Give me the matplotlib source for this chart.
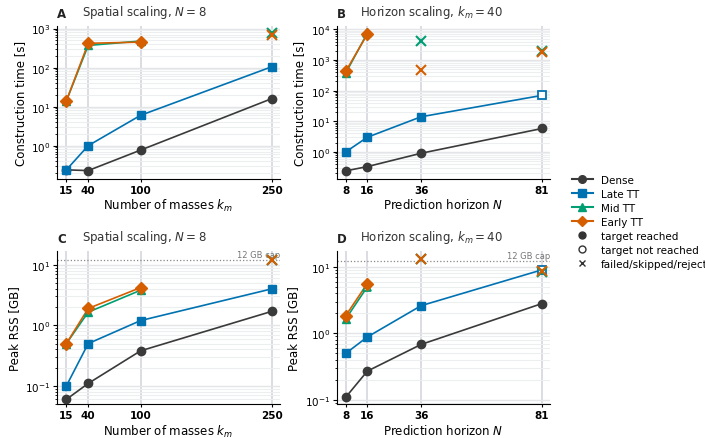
import matplotlib
matplotlib.use("Agg")
import matplotlib.pyplot as plt
from matplotlib.lines import Line2D
import numpy as np

# ---- data ----
km = [15, 40, 100, 250]
horizon = [8, 16, 36, 81]
methods = ["Dense", "Late TT", "Mid TT", "Early TT"]
colors = {"Dense": "#3a3a3a", "Late TT": "#0072B2", "Mid TT": "#009E73", "Early TT": "#D55E00"}
markers = {"Dense": "o", "Late TT": "s", "Mid TT": "^", "Early TT": "D"}
msizes = {"Dense": 6, "Late TT": 5.8, "Mid TT": 6.2, "Early TT": 5.8}

# status: 'r' reached, 'n' not reached, 'x' failed/skipped/rejected
time_spatial = {
    "Dense":    [0.24, 0.23, 0.77, 16],
    "Late TT":  [0.24, 1.0, 6.0, 105],
    "Mid TT":   [14, 370, 480, 750],
    "Early TT": [14, 420, 450, 700],
}
time_spatial_status = {
    "Dense":    ["r", "r", "r", "r"],
    "Late TT":  ["r", "r", "r", "r"],
    "Mid TT":   ["r", "r", "r", "x"],
    "Early TT": ["r", "r", "r", "x"],
}
time_horizon = {
    "Dense":    [0.24, 0.33, 0.9, 5.8],
    "Late TT":  [1.0, 3.0, 14, 70],
    "Mid TT":   [380, 7500, 4200, 1900],
    "Early TT": [430, 7000, 480, 1800],
}
time_horizon_status = {
    "Dense":    ["r", "r", "r", "r"],
    "Late TT":  ["r", "r", "r", "n"],
    "Mid TT":   ["r", "n", "x", "x"],
    "Early TT": ["r", "r", "x", "x"],
}
rss_spatial = {
    "Dense":    [0.06, 0.11, 0.38, 1.7],
    "Late TT":  [0.10, 0.50, 1.2, 4.0],
    "Mid TT":   [0.50, 1.65, 3.8, 12],
    "Early TT": [0.50, 1.9, 4.2, 12],
}
rss_spatial_status = time_spatial_status
rss_horizon = {
    "Dense":    [0.11, 0.27, 0.68, 2.8],
    "Late TT":  [0.50, 0.88, 2.6, 9.0],
    "Mid TT":   [1.65, 5.0, 13, 8.3],
    "Early TT": [1.85, 5.6, 13, 8.5],
}
rss_horizon_status = time_horizon_status
mem_cap = 12

plt.rcParams["font.family"] = "DejaVu Sans"
plt.rcParams["font.size"] = 8

fig = plt.figure(figsize=(7.05, 4.39), dpi=100)
axA = fig.add_axes([0.081, 0.59, 0.316, 0.348])
axB = fig.add_axes([0.478, 0.59, 0.302, 0.348])
axC = fig.add_axes([0.081, 0.077, 0.316, 0.348])
axD = fig.add_axes([0.478, 0.077, 0.302, 0.348])


def draw(ax, xs, data, status, ylim, ylabel, xlabel, letter, title, xticks, cap=False):
    ax.set_yscale("log")
    for m in methods:
        c = colors[m]
        vals = data[m]
        st = status[m]
        ms = msizes[m]
        lx = [x for x, s in zip(xs, st) if s != "x"]
        ly = [v for v, s in zip(vals, st) if s != "x"]
        ax.plot(lx, ly, "-", color=c, lw=1.2, zorder=3)
        for x, v, s in zip(xs, vals, st):
            if s == "r":
                ax.plot(x, v, markers[m], color=c, ms=ms, zorder=4)
            elif s == "n":
                ax.plot(x, v, markers[m], mfc="white", mec=c, mew=1.3, ms=ms, zorder=4)
            else:
                ax.plot(x, v, "x", color=c, ms=6.5, mew=1.5, zorder=4)
    ax.set_ylim(*ylim)
    ax.set_xticks(xticks)
    ax.set_xticklabels([str(t) for t in xticks], fontweight="bold")
    rng = xticks[-1] - xticks[0]
    ax.set_xlim(xticks[0] - 0.045 * rng, xticks[-1] + 0.04 * rng)
    ax.grid(axis="x", which="major", color="#dcdde2", lw=1.4, zorder=0)
    ax.grid(axis="y", which="major", color="#e4e5e9", lw=1.0, zorder=0)
    ax.grid(axis="y", which="minor", color="#eceef0", lw=0.8, zorder=0)
    ax.set_axisbelow(True)
    for sp in ["top", "right"]:
        ax.spines[sp].set_visible(False)
    ax.set_ylabel(ylabel, fontsize=8.5, labelpad=3)
    ax.set_xlabel(xlabel, fontsize=8.5, labelpad=1.5)
    ax.tick_params(axis="both", labelsize=7.5)
    ax.tick_params(axis="x", length=2.5, pad=2)
    ax.tick_params(axis="y", which="major", length=3, pad=2)
    ax.tick_params(axis="y", which="minor", length=1.8)
    ax.text(0.0, 1.04, letter, transform=ax.transAxes, fontweight="bold", fontsize=8.5,
            ha="left", va="bottom", color="#222222")
    ax.text(0.11, 1.04, title, transform=ax.transAxes, fontsize=8.5, ha="left", va="bottom",
            color="#333333")
    if cap:
        ax.axhline(mem_cap, color="#888888", ls=":", lw=0.9, zorder=1)
        ax.text(1.0, mem_cap * 1.05, "12 GB cap", transform=ax.get_yaxis_transform(),
                ha="right", va="bottom", fontsize=6, color="#777777")


draw(axA, km, time_spatial, time_spatial_status, (0.14, 1150), "Construction time [s]",
     "Number of masses $k_m$", "A", "Spatial scaling, $N = 8$", km)
draw(axB, horizon, time_horizon, time_horizon_status, (0.13, 12700), "Construction time [s]",
     "Prediction horizon $N$", "B", "Horizon scaling, $k_m = 40$", horizon)
draw(axC, km, rss_spatial, rss_spatial_status, (0.05, 16.6), "Peak RSS [GB]",
     "Number of masses $k_m$", "C", "Spatial scaling, $N = 8$", km, cap=True)
draw(axD, horizon, rss_horizon, rss_horizon_status, (0.086, 17), "Peak RSS [GB]",
     "Prediction horizon $N$", "D", "Horizon scaling, $k_m = 40$", horizon, cap=True)

handles = [Line2D([], [], color=colors[m], marker=markers[m], ms=5.5, lw=1.5, label=m) for m in methods]
handles += [
    Line2D([], [], color="#333333", marker="o", ls="none", ms=5, label="target reached"),
    Line2D([], [], color="#333333", marker="o", mfc="white", ls="none", ms=5, label="target not reached"),
    Line2D([], [], color="#333333", marker="x", ls="none", ms=5, label="failed/skipped/rejected"),
]
fig.legend(handles=handles, loc="center left", bbox_to_anchor=(0.798, 0.492), frameon=False,
           fontsize=7.5, handlelength=2.0, labelspacing=0.38)

fig.savefig("out.png", dpi=100)
